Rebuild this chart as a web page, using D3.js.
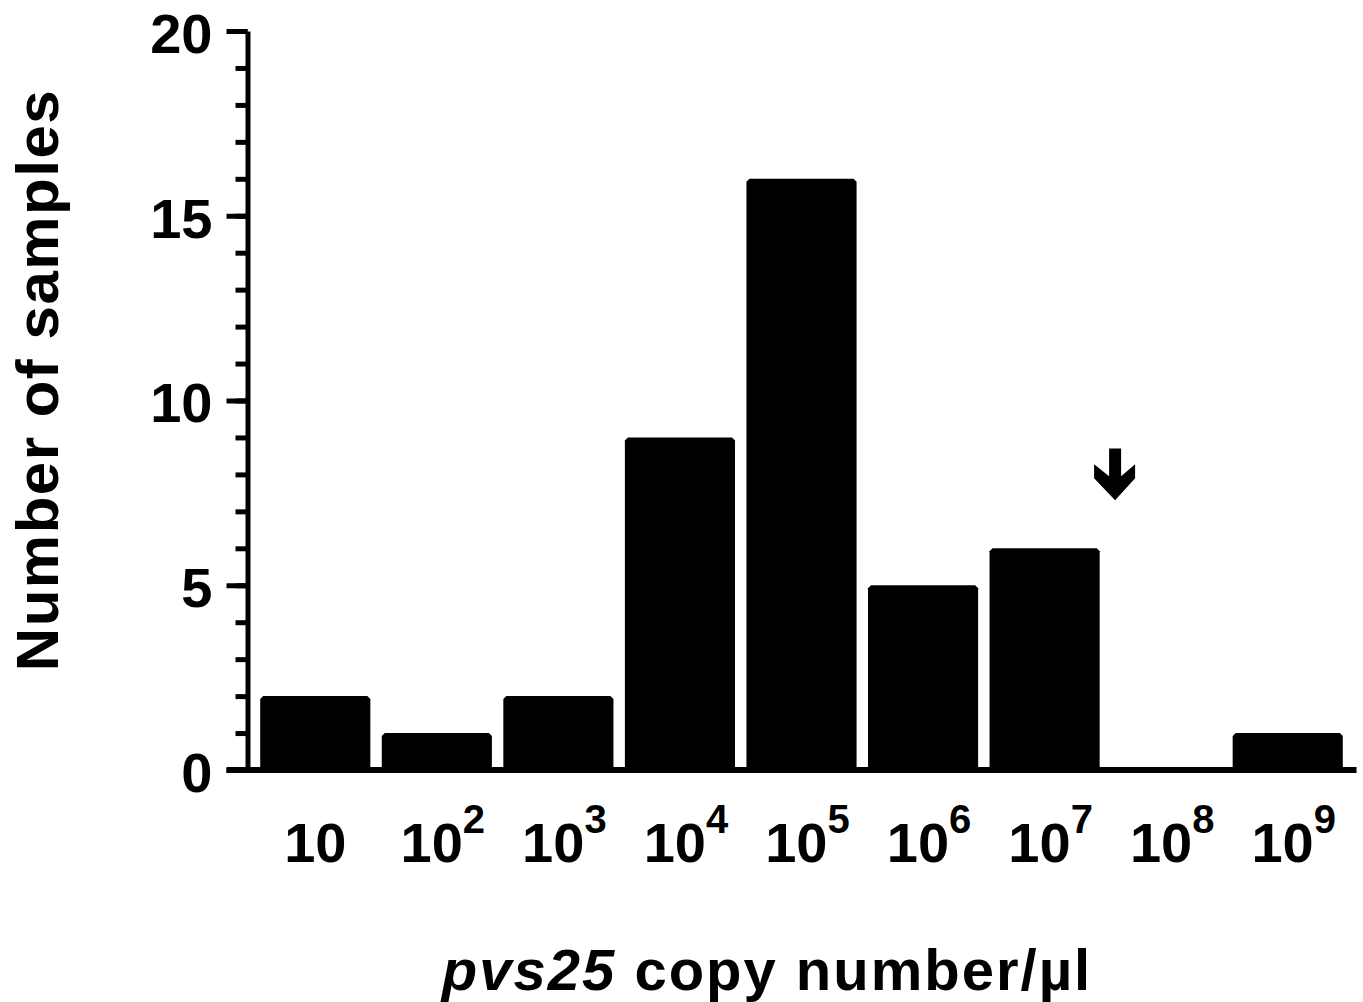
<!DOCTYPE html>
<html>
<head>
<meta charset="utf-8">
<script src="https://cdn.jsdelivr.net/npm/d3@7"></script>
<style>
  body { margin: 0; background: #fff; }
  text { font-family: "Liberation Sans", Arial, Helvetica, sans-serif; font-weight: bold; fill: #000; }
</style>
</head>
<body>
<div id="chart"></div>
<script>
// data
var exponents = [1, 2, 3, 4, 5, 6, 7, 8, 9];
var counts = [2, 1, 2, 9, 16, 5, 6, 0, 1];
var yMajorTicks = [0, 5, 10, 15, 20];
var arrowAt = 8;          // category the arrow points at
var arrowFrom = 8.7, arrowTo = 7.3;

var width = 1363,
    height = 1002;
var svg = d3.select("#chart").append("svg")
            .attr("width", width)
            .attr("height", height);

var axisX = 247.5;
var x = d3.scaleBand()
          .domain(exponents)
          .range([254.5, 1348.5])
          .paddingInner(0.094)
          .paddingOuter(0.047);
var y = d3.scaleLinear()
          .domain([0, 20])
          .range([770, 31]);

// bars, with the small clipped top corners
var c = 3;
svg.selectAll("path.bar")
   .data(counts.map(function(d, i){ return {e: exponents[i], v: d}; }).filter(function(d){ return d.v > 0; }))
   .enter().append("path")
   .attr("class", "bar")
   .attr("fill", "#000")
   .attr("d", function(d){
       var x0 = x(d.e), x1 = x0 + x.bandwidth(), y0 = y(0), y1 = y(d.v);
       return "M" + x0 + "," + y0 + "L" + x0 + "," + (y1 + c) + "L" + (x0 + c) + "," + y1 +
              "L" + (x1 - c) + "," + y1 + "L" + x1 + "," + (y1 + c) + "L" + x1 + "," + y0 + "Z";
   });

// y axis: minor ticks then major ticks
var yMinor = svg.append("g")
   .attr("transform", "translate(" + axisX + ",0)")
   .call(d3.axisLeft(y).ticks(20).tickSize(12).tickSizeOuter(0).tickFormat(""));
yMinor.select(".domain").remove();
yMinor.selectAll("line").attr("stroke", "#000").attr("stroke-width", 5);

var yAxis = svg.append("g")
   .attr("transform", "translate(" + axisX + ",0)")
   .call(d3.axisLeft(y).tickValues(yMajorTicks).tickSize(21).tickSizeOuter(0).tickPadding(14));
yAxis.select(".domain").attr("stroke", "#000").attr("stroke-width", 5);
yAxis.selectAll("line").attr("stroke", "#000").attr("stroke-width", 5);
yAxis.selectAll("text")
     .attr("dy", "0.38em")
     .style("font-size", "56px");

// x axis baseline
svg.append("line")
   .attr("x1", axisX - 21)
   .attr("x2", x.range()[1] + 8)
   .attr("y1", y(0))
   .attr("y2", y(0))
   .attr("stroke", "#000")
   .attr("stroke-width", 6);

// x tick labels, 10 and powers of 10
var xl = svg.selectAll("text.xlab")
   .data(exponents)
   .enter().append("text")
   .attr("class", "xlab")
   .attr("x", function(d){ return x(d) + x.bandwidth() / 2 + (d > 1 ? 6 : 0); })
   .attr("y", y(0) + 92)
   .attr("text-anchor", "middle")
   .style("font-size", "56px");
xl.append("tspan").text("10");
xl.filter(function(d){ return d > 1; })
  .append("tspan")
  .attr("dy", -29)
  .style("font-size", "40px")
  .text(function(d){ return d; });

// arrow over 10^8
var ax = x(arrowAt) + 4, ya = y(arrowFrom), yb = y(arrowTo);
svg.append("path")
   .attr("fill", "#000")
   .attr("d", "M" + (ax - 6) + "," + ya + "L" + (ax + 6) + "," + ya + "L" + (ax + 6) + "," + (yb - 24) +
              "L" + (ax + 20) + "," + (yb - 36) + "L" + (ax + 20) + "," + (yb - 22) + "L" + ax + "," + yb +
              "L" + (ax - 21) + "," + (yb - 22) + "L" + (ax - 21) + "," + (yb - 36) + "L" + (ax - 6) + "," + (yb - 24) + "Z");

// axis titles
svg.append("text")
   .attr("transform", "translate(58," + ((88 + 672) / 2) + ") rotate(-90)")
   .attr("text-anchor", "middle")
   .style("font-size", "60px")
   .style("letter-spacing", "1.5px")
   .text("Number of samples");

var xt = svg.append("text")
   .attr("x", 767)
   .attr("y", 990)
   .attr("text-anchor", "middle")
   .style("font-size", "58px")
   .style("letter-spacing", "2px");
xt.append("tspan").style("font-style", "italic").text("pvs25");
xt.append("tspan").text(" copy number/\u00b5l");
</script>
</body>
</html>
